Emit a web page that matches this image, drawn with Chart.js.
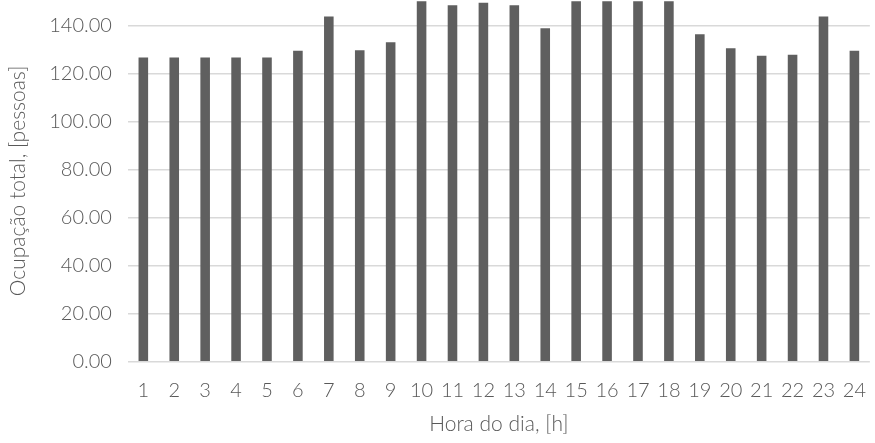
<html>
<head>
    <title>Ocupação total</title>
    <script src="https://cdn.jsdelivr.net/npm/chart.js"></script>
    <style>
        body { margin: 0; background: #ffffff; }
        #wrap { width: 875px; height: 443px; }
    </style>
</head>
<body>
    <div id="wrap"><canvas id="ocupacaoChart" width="875" height="443"></canvas></div>

    <script>
        // horas do dia e ocupacao
        const horas = ['1','2','3','4','5','6','7','8','9','10','11','12','13','14','15','16','17','18','19','20','21','22','23','24'];
        const ocupacao = [126.8, 126.8, 126.8, 126.8, 126.8, 129.6, 143.9, 129.9, 133.2, 150.3, 148.6, 149.7,
                          148.6, 139.0, 150.3, 150.3, 150.3, 150.3, 136.5, 130.7, 127.6, 128.0, 143.9, 129.6];
        const yTicks = [0, 20, 40, 60, 80, 100, 120, 140];

        const fontFamily = 'Lato, "Liberation Sans", sans-serif';
        const grey = '#595959';

        const ctx = document.getElementById('ocupacaoChart').getContext('2d');
        new Chart(ctx, {
            type: 'bar',
            data: {
                labels: horas,
                datasets: [{
                    label: 'Ocupação total',
                    data: ocupacao,
                    backgroundColor: '#5f5f5f',
                    barPercentage: 0.62,
                    categoryPercentage: 0.5
                }]
            },
            options: {
                responsive: false,
                animation: false,
                layout: { padding: { top: 0, right: 0, left: 6, bottom: 6 } },
                plugins: {
                    legend: { display: false },
                    tooltip: { enabled: false }
                },
                scales: {
                    x: {
                        grid: { display: false },
                        border: { display: false },
                        ticks: { color: grey, font: { family: fontFamily, size: 20, weight: 300 }, padding: 9, maxRotation: 0, autoSkip: false },
                        title: { display: true, text: 'Hora do dia, [h]', color: grey, font: { family: fontFamily, size: 21, weight: 300 }, padding: { top: 0, bottom: 0 } }
                    },
                    y: {
                        min: 0,
                        max: 150.8,
                        afterBuildTicks: (scale) => {
                            scale.ticks = yTicks.map(v => ({ value: v }));
                        },
                        afterFit: (scale) => {
                            // no extra room above the plot, the top is cut like in the picture
                            scale.paddingTop = 0;
                            scale.paddingBottom = 0;
                        },
                        grid: { color: '#d9d9d9', lineWidth: 1.5, drawTicks: false },
                        border: { display: false },
                        ticks: {
                            color: grey,
                            font: { family: fontFamily, size: 20, weight: 300 },
                            padding: 16,
                            callback: (v) => Number(v).toFixed(2)
                        },
                        title: { display: true, text: 'Ocupação total, [pessoas]', color: grey, font: { family: fontFamily, size: 21, weight: 300 }, padding: { top: 0, bottom: 2 } }
                    }
                }
            }
        });
    </script>
</body>
</html>
